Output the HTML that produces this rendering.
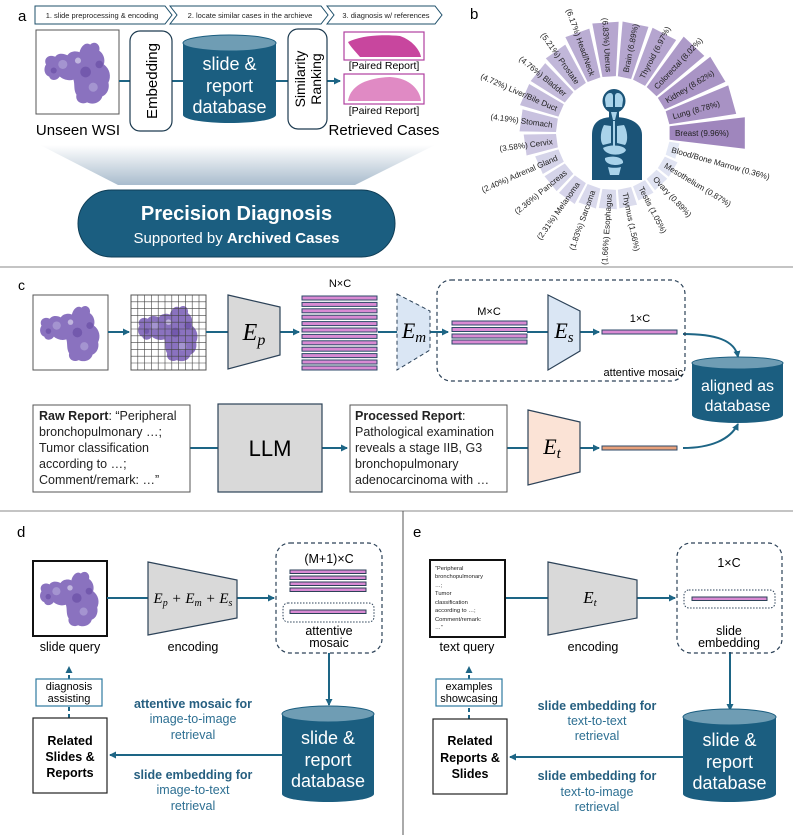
<!DOCTYPE html>
<html><head><meta charset="utf-8">
<style>
html,body{margin:0;padding:0;background:#fff;}
svg{display:block;font-family:"Liberation Sans",sans-serif;}
.m{font-family:"Liberation Serif",serif;font-style:italic;}
</style></head>
<body>
<svg width="793" height="835" viewBox="0 0 793 835" xmlns="http://www.w3.org/2000/svg">
<defs>
<marker id="ar" markerWidth="8" markerHeight="8" refX="6" refY="4" orient="auto" markerUnits="userSpaceOnUse">
<path d="M0,0.5 L7,4 L0,7.5 Z" fill="#1d6585"/></marker>
<symbol id="tis" viewBox="0 0 100 100">
<path d="M8,40 C4,32 12,26 20,30 C24,24 32,26 36,28 C40,22 48,22 52,24 C54,16 60,10 66,14 C72,8 80,14 78,22 C84,26 86,34 84,40 C92,46 94,56 90,64 C92,72 88,80 82,82 C80,90 70,94 62,90 C54,94 46,88 48,80 C44,74 46,66 44,60 C38,62 30,60 26,56 C22,62 14,62 12,56 C6,54 4,46 8,40 Z" fill="#8a72bf"/>
<circle cx="30" cy="40" r="6" fill="#a494d0"/><circle cx="60" cy="50" r="7" fill="#7359ad"/><circle cx="70" cy="70" r="6" fill="#a494d0"/><circle cx="50" cy="35" r="4" fill="#c0b5de"/><circle cx="78" cy="40" r="5" fill="#7359ad"/><circle cx="18" cy="48" r="4" fill="#7359ad"/>
</symbol>
<linearGradient id="trap" x1="0" y1="0" x2="0" y2="1"><stop offset="0" stop-color="#ffffff"/><stop offset="1" stop-color="#a9bccd"/></linearGradient>
<g id="bar"><rect x="0" y="0" width="75" height="4" fill="#d98ad3" stroke="#2c4a68" stroke-width="1"/></g>
<g id="barO"><rect x="0" y="0" width="75" height="4" fill="#e8a07a" stroke="#2c4a68" stroke-width="1"/></g>
</defs>

<!-- ===== Panel a ===== -->
<text x="18" y="21" font-size="15">a</text>
<g fill="#fff" stroke="#1d4f6a" stroke-width="1">
<polygon points="35,6 165,6 172,15 165,24 35,24"/>
<polygon points="170,6 321,6 328,15 321,24 170,24 177,15"/>
<polygon points="327,6 435,6 442,15 435,24 327,24 334,15"/>
</g>
<g font-size="7.5" fill="#222" text-anchor="middle">
<text x="102" y="18">1. slide preprocessing &amp; encoding</text>
<text x="250" y="18">2. locate similar cases in the archieve</text>
<text x="386" y="18">3. diagnosis w/ references</text>
</g>
<rect x="36" y="30" width="83" height="84" fill="#fff" stroke="#555" stroke-width="1"/>
<use href="#tis" x="40" y="34" width="76" height="76"/>
<text x="78" y="135" font-size="15" text-anchor="middle">Unseen WSI</text>
<g stroke="#1d6585" stroke-width="2"><line x1="119" y1="81" x2="130" y2="81"/><line x1="172" y1="81" x2="183" y2="81"/><line x1="276" y1="81" x2="288" y2="81"/><line x1="327" y1="81" x2="340" y2="81" marker-end="url(#ar)"/></g>
<rect x="130" y="31" width="42" height="100" rx="10" fill="#fff" stroke="#1d3b50" stroke-width="1.2"/>
<text transform="translate(157,81) rotate(-90)" font-size="15" text-anchor="middle">Embedding</text>
<path d="M183,43 L183,115 A46.5,8 0 0 0 276,115 L276,43 Z" fill="#1b5e80"/>
<ellipse cx="229.5" cy="43" rx="46.5" ry="8" fill="#6f9db4" stroke="#1b5e80"/>
<g fill="#fff" font-size="18" text-anchor="middle"><text x="229.5" y="70">slide &amp;</text><text x="229.5" y="92">report</text><text x="229.5" y="113">database</text></g>
<rect x="288" y="29" width="39" height="100" rx="10" fill="#fff" stroke="#1d3b50" stroke-width="1.2"/>
<text transform="translate(305,79) rotate(-90)" font-size="14" text-anchor="middle">Similarity</text>
<text transform="translate(321,79) rotate(-90)" font-size="14" text-anchor="middle">Ranking</text>
<rect x="344" y="32" width="80" height="28" fill="#fff" stroke="#b040a0" stroke-width="1.2"/>
<path d="M348,42 C360,36 380,34 400,36 C412,40 420,50 421,57 L360,57 C354,50 350,46 348,42 Z" fill="#c8469e"/>
<text x="384" y="69" font-size="10.5" text-anchor="middle">[Paired Report]</text>
<rect x="344" y="74" width="80" height="30" fill="#fff" stroke="#b040a0" stroke-width="1.2"/>
<path d="M348,101 C350,88 362,78 390,77 C410,78 420,90 421,101 Z" fill="#e08ac4"/>
<text x="384" y="114" font-size="10.5" text-anchor="middle">[Paired Report]</text>
<text x="384" y="135" font-size="15" text-anchor="middle">Retrieved Cases</text>
<polygon points="40,145 435,145 355,185 118,185" fill="url(#trap)"/>
<rect x="78" y="190" width="317" height="67" rx="33.5" fill="#1b5e80" stroke="#0f3e57"/>
<text x="236.5" y="220" font-size="20" font-weight="bold" fill="#fff" text-anchor="middle">Precision Diagnosis</text>
<text x="236.5" y="243" font-size="15" fill="#fff" text-anchor="middle">Supported by <tspan font-weight="bold">Archived Cases</tspan></text>

<!-- ===== Panel b ===== -->
<text x="470" y="19" font-size="15">b</text>
<g transform="translate(613,133)">
<polygon transform="rotate(0)" points="56.6,-6.75 131.8,-15.7 131.8,15.7 56.6,6.75" fill="#9f86bd"/>
<polygon transform="rotate(15.65)" points="56.6,-6.75 66.9,-8 66.9,8 56.6,6.75" fill="#e3e8f5"/>
<polygon transform="rotate(31.3)" points="56.6,-6.75 70.4,-8.4 70.4,8.4 56.6,6.75" fill="#e0e3f2"/>
<polygon transform="rotate(46.96)" points="56.6,-6.75 70.5,-8.4 70.5,8.4 56.6,6.75" fill="#e0e3f2"/>
<polygon transform="rotate(62.6)" points="56.6,-6.75 71.6,-8.5 71.6,8.5 56.6,6.75" fill="#dfe1f1"/>
<polygon transform="rotate(78.3)" points="56.6,-6.75 75.1,-9 75.1,9 56.6,6.75" fill="#dbdced"/>
<polygon transform="rotate(93.9)" points="56.6,-6.75 75.8,-9 75.8,9 56.6,6.75" fill="#dadbed"/>
<polygon transform="rotate(109.6)" points="56.6,-6.75 76.9,-9.2 76.9,9.2 56.6,6.75" fill="#d9d9ec"/>
<polygon transform="rotate(125.2)" points="56.6,-6.75 80.1,-9.6 80.1,9.6 56.6,6.75" fill="#d6d4ea"/>
<polygon transform="rotate(140.9)" points="56.6,-6.75 80.4,-9.6 80.4,9.6 56.6,6.75" fill="#d5d4e9"/>
<polygon transform="rotate(156.5)" points="56.6,-6.75 80.7,-9.6 80.7,9.6 56.6,6.75" fill="#d5d4e9"/>
<polygon transform="rotate(172.2)" points="56.6,-6.75 88.7,-10.6 88.7,10.6 56.6,6.75" fill="#cdc7e2"/>
<polygon transform="rotate(187.8)" points="56.6,-6.75 92.8,-11.1 92.8,11.1 56.6,6.75" fill="#c8c1df"/>
<polygon transform="rotate(203.5)" points="56.6,-6.75 96.4,-11.5 96.4,11.5 56.6,6.75" fill="#c4bcdb"/>
<polygon transform="rotate(219.1)" points="56.6,-6.75 96.7,-11.5 96.7,11.5 56.6,6.75" fill="#c4bbdb"/>
<polygon transform="rotate(234.8)" points="56.6,-6.75 99.7,-11.9 99.7,11.9 56.6,6.75" fill="#c1b7d9"/>
<polygon transform="rotate(250.4)" points="56.6,-6.75 106.3,-12.7 106.3,12.7 56.6,6.75" fill="#baadd3"/>
<polygon transform="rotate(266.1)" points="56.6,-6.75 110.6,-13.2 110.6,13.2 56.6,6.75" fill="#b6a6cf"/>
<polygon transform="rotate(281.7)" points="56.6,-6.75 111.1,-13.2 111.1,13.2 56.6,6.75" fill="#b5a6cf"/>
<polygon transform="rotate(297.4)" points="56.6,-6.75 111.6,-13.3 111.6,13.3 56.6,6.75" fill="#b5a5cf"/>
<polygon transform="rotate(313.04)" points="56.6,-6.75 118.7,-14.1 118.7,14.1 56.6,6.75" fill="#ad9ac8"/>
<polygon transform="rotate(328.7)" points="56.6,-6.75 122.7,-14.6 122.7,14.6 56.6,6.75" fill="#a994c5"/>
<polygon transform="rotate(344.35)" points="56.6,-6.75 123.8,-14.8 123.8,14.8 56.6,6.75" fill="#a892c4"/>
<g font-size="8.1" fill="#222">
<text transform="rotate(0)" x="62" y="3">Breast (9.96%)</text>
<text transform="rotate(15.65)" x="61" y="3">Blood/Bone Marrow (0.36%)</text>
<text transform="rotate(31.3)" x="61" y="3">Mesothelium (0.87%)</text>
<text transform="rotate(46.96)" x="61" y="3">Ovary (0.89%)</text>
<text transform="rotate(62.6)" x="61" y="3">Testis (1.05%)</text>
<text transform="rotate(78.3)" x="61" y="3">Thymus (1.56%)</text>
<text transform="rotate(-15.65)" x="62" y="3">Lung (8.78%)</text>
<text transform="rotate(-31.3)" x="62" y="3">Kidney (8.62%)</text>
<text transform="rotate(-46.96)" x="62" y="3">Colorectal (8.02%)</text>
<text transform="rotate(-62.6)" x="62" y="3">Thyroid (6.97%)</text>
<text transform="rotate(-78.3)" x="62" y="3">Brain (6.89%)</text>
<g text-anchor="end">
<text transform="rotate(-86.1)" x="-61" y="3">(1.66%) Esophagus</text>
<text transform="rotate(-70.4)" x="-61" y="3">(1.83%) Sarcoma</text>
<text transform="rotate(-54.8)" x="-61" y="3">(2.31%) Melanoma</text>
<text transform="rotate(-39.1)" x="-61" y="3">(2.36%) Pancreas</text>
<text transform="rotate(-23.5)" x="-61" y="3">(2.40%) Adrenal Gland</text>
<text transform="rotate(-7.8)" x="-61" y="3">(3.58%) Cervix</text>
<text transform="rotate(7.8)" x="-61" y="3">(4.19%) Stomach</text>
<text transform="rotate(23.5)" x="-61" y="3">(4.72%) Liver/Bile Duct</text>
<text transform="rotate(39.1)" x="-61" y="3">(4.76%) Bladder</text>
<text transform="rotate(54.8)" x="-61" y="3">(5.21%) Prostate</text>
<text transform="rotate(70.4)" x="-61" y="3">(6.17%) Head/Neck</text>
<text transform="rotate(86.1)" x="-61" y="3">(6.83%) Uterus</text>
</g></g>
</g>
<!-- human figure -->
<g>
<ellipse cx="614" cy="101" rx="11.5" ry="12" fill="#1b5478"/>
<rect x="609" y="110" width="10" height="10" fill="#1b5478"/>
<path d="M592,180 L592,135 C592,122 600,117 614,117 C628,117 642,122 642,135 L642,180 Z" fill="#1b5478"/>
<path d="M605,100 C605,92 613,91 613,96 L613,107 L606,107 Z M615,96 C615,91 623,92 623,100 L622,107 L615,107 Z" fill="#a9d3ea"/>
<path d="M611,112 L617,112 L615,120 L613,120 Z" fill="#a9d3ea"/>
<path d="M604,125 C600,132 600,142 603,145 L611,143 L611,126 Z M624,125 C628,132 628,142 625,145 L617,143 L617,126 Z" fill="#a9d3ea"/>
<rect x="613" y="121" width="2" height="25" fill="#a9d3ea"/>
<path d="M603,148 C610,144 624,145 626,150 C624,156 606,157 603,148 Z" fill="#a9d3ea"/>
<path d="M605,158 C612,155 624,157 623,163 C618,167 604,165 605,158 Z" fill="#a9d3ea"/>
<path d="M608,167 C612,168 617,168 621,167 L619,175 L610,175 Z" fill="#a9d3ea"/>
</g>

<!-- separators -->
<line x1="0" y1="267" x2="793" y2="267" stroke="#8a8a8a" stroke-width="1"/>
<line x1="0" y1="511" x2="793" y2="511" stroke="#8a8a8a" stroke-width="1"/>
<line x1="403" y1="511" x2="403" y2="835" stroke="#555" stroke-width="1"/>

<!-- ===== Panel c ===== -->
<text x="18" y="290" font-size="14">c</text>
<rect x="33" y="295" width="75" height="75" fill="#fff" stroke="#555"/>
<use href="#tis" x="36" y="298" width="69" height="69"/>
<rect x="131" y="295" width="75" height="75" fill="#fff" stroke="#555"/>
<use href="#tis" x="134" y="298" width="69" height="69"/>
<g stroke="#444" stroke-width="0.6">
<line x1="137.8" y1="295" x2="137.8" y2="370"/><line x1="144.6" y1="295" x2="144.6" y2="370"/><line x1="151.4" y1="295" x2="151.4" y2="370"/><line x1="158.2" y1="295" x2="158.2" y2="370"/><line x1="165" y1="295" x2="165" y2="370"/><line x1="171.8" y1="295" x2="171.8" y2="370"/><line x1="178.6" y1="295" x2="178.6" y2="370"/><line x1="185.4" y1="295" x2="185.4" y2="370"/><line x1="192.2" y1="295" x2="192.2" y2="370"/><line x1="199" y1="295" x2="199" y2="370"/>
<line x1="131" y1="301.8" x2="206" y2="301.8"/><line x1="131" y1="308.6" x2="206" y2="308.6"/><line x1="131" y1="315.4" x2="206" y2="315.4"/><line x1="131" y1="322.2" x2="206" y2="322.2"/><line x1="131" y1="329" x2="206" y2="329"/><line x1="131" y1="335.8" x2="206" y2="335.8"/><line x1="131" y1="342.6" x2="206" y2="342.6"/><line x1="131" y1="349.4" x2="206" y2="349.4"/><line x1="131" y1="356.2" x2="206" y2="356.2"/><line x1="131" y1="363" x2="206" y2="363"/>
</g>
<g stroke="#1d6585" stroke-width="2" fill="none">
<line x1="108" y1="332" x2="129" y2="332" marker-end="url(#ar)"/>
<line x1="206" y1="332" x2="228" y2="332"/>
<line x1="280" y1="332" x2="299" y2="332" marker-end="url(#ar)"/>
<line x1="378" y1="332" x2="397" y2="332"/>
<line x1="430" y1="332" x2="448" y2="332" marker-end="url(#ar)"/>
<line x1="527" y1="332" x2="548" y2="332"/>
<line x1="580" y1="332" x2="599" y2="332" marker-end="url(#ar)"/>
<path d="M683,334 C715,334 735,340 738,357" marker-end="url(#ar)"/>
<line x1="190" y1="448" x2="218" y2="448"/>
<line x1="322" y1="448" x2="347" y2="448" marker-end="url(#ar)"/>
<line x1="507" y1="448" x2="528" y2="448"/>
<line x1="580" y1="448" x2="599" y2="448" marker-end="url(#ar)"/>
<path d="M683,448 C710,448 730,440 738,424" marker-end="url(#ar)"/>
</g>
<polygon points="228,295 280,307 280,355 228,369" fill="#d9d9d9" stroke="#2c4258" stroke-width="1.2"/>
<text x="254" y="340" class="m" font-size="24" text-anchor="middle">E<tspan font-size="16" dy="5">p</tspan></text>
<text x="340" y="287" font-size="11" text-anchor="middle">N×C</text>
<use href="#bar" x="302" y="296"/><use href="#bar" x="302" y="302.4"/><use href="#bar" x="302" y="308.8"/><use href="#bar" x="302" y="315.2"/><use href="#bar" x="302" y="321.6"/><use href="#bar" x="302" y="328"/><use href="#bar" x="302" y="334.4"/><use href="#bar" x="302" y="340.8"/><use href="#bar" x="302" y="347.2"/><use href="#bar" x="302" y="353.6"/><use href="#bar" x="302" y="360"/><use href="#bar" x="302" y="366"/>
<polygon points="397,294 430,311 430,350 397,370" fill="#dae6f4" stroke="#2c4258" stroke-width="1" stroke-dasharray="4,3"/>
<text x="414" y="338" class="m" font-size="22" text-anchor="middle">E<tspan font-size="15" dy="4">m</tspan></text>
<rect x="437" y="280" width="248" height="101" rx="14" fill="none" stroke="#2c4258" stroke-width="1.2" stroke-dasharray="4,3"/>
<text x="489" y="315" font-size="11" text-anchor="middle">M×C</text>
<use href="#bar" x="452" y="321"/><use href="#bar" x="452" y="327.5"/><use href="#bar" x="452" y="334"/><use href="#bar" x="452" y="340"/>
<polygon points="548,295 580,311 580,351 548,370" fill="#dae6f4" stroke="#2c4258" stroke-width="1.2"/>
<text x="564" y="338" class="m" font-size="22" text-anchor="middle">E<tspan font-size="15" dy="4">s</tspan></text>
<text x="640" y="322" font-size="11" text-anchor="middle">1×C</text>
<use href="#bar" x="602" y="330"/>
<text x="683" y="376" font-size="11" text-anchor="end">attentive mosaic</text>
<path d="M692,363 L692,415 A45.5,8 0 0 0 783,415 L783,363 Z" fill="#1b5e80"/>
<ellipse cx="737.5" cy="363" rx="45.5" ry="6" fill="#6f9db4" stroke="#1b5e80"/>
<g fill="#fff" font-size="16" text-anchor="middle"><text x="737.5" y="391">aligned as</text><text x="737.5" y="411">database</text></g>
<rect x="33" y="405" width="157" height="87" fill="#fff" stroke="#555"/>
<g font-size="12.5" fill="#222">
<text x="39" y="420"><tspan font-weight="bold">Raw Report</tspan>: “Peripheral</text>
<text x="39" y="436">bronchopulmonary …;</text>
<text x="39" y="452">Tumor classification</text>
<text x="39" y="468">according to …;</text>
<text x="39" y="484">Comment/remark: …”</text>
</g>
<rect x="218" y="404" width="104" height="88" fill="#d9d9d9" stroke="#2c4258" stroke-width="1.2"/>
<text x="270" y="456" font-size="22" text-anchor="middle">LLM</text>
<rect x="350" y="405" width="157" height="87" fill="#fff" stroke="#555"/>
<g font-size="12.5" fill="#222">
<text x="355" y="420"><tspan font-weight="bold">Processed Report</tspan>:</text>
<text x="355" y="436">Pathological examination</text>
<text x="355" y="452">reveals a stage IIB, G3</text>
<text x="355" y="468">bronchopulmonary</text>
<text x="355" y="484">adenocarcinoma with …</text>
</g>
<polygon points="528,410 580,422 580,472 528,485" fill="#fbe3d6" stroke="#2c4258" stroke-width="1.2"/>
<text x="552" y="454" class="m" font-size="22" text-anchor="middle">E<tspan font-size="15" dy="4">t</tspan></text>
<use href="#barO" x="602" y="446"/>

<!-- ===== Panel d ===== -->
<text x="17" y="537" font-size="15">d</text>
<rect x="33" y="561" width="74" height="75" fill="#fff" stroke="#111" stroke-width="2"/>
<use href="#tis" x="36" y="564" width="68" height="68"/>
<text x="70" y="651" font-size="12.5" text-anchor="middle">slide query</text>
<g stroke="#1d6585" stroke-width="2" fill="none">
<line x1="107" y1="598" x2="148" y2="598"/>
<line x1="237" y1="598" x2="274" y2="598" marker-end="url(#ar)"/>
<line x1="329" y1="653" x2="329" y2="705" marker-end="url(#ar)"/>
<line x1="282" y1="755" x2="110" y2="755" marker-end="url(#ar)"/>
<line x1="69" y1="718" x2="69" y2="707" stroke-dasharray="4,3"/>
<line x1="69" y1="679" x2="69" y2="667" stroke-dasharray="4,3" marker-end="url(#ar)"/>
<line x1="505" y1="598" x2="548" y2="598"/>
<line x1="637" y1="598" x2="675" y2="598" marker-end="url(#ar)"/>
<line x1="730" y1="652" x2="730" y2="710" marker-end="url(#ar)"/>
<line x1="683" y1="757" x2="510" y2="757" marker-end="url(#ar)"/>
<line x1="469" y1="719" x2="469" y2="707" stroke-dasharray="4,3"/>
<line x1="469" y1="679" x2="469" y2="667" stroke-dasharray="4,3" marker-end="url(#ar)"/>
</g>
<polygon points="148,562 237,580 237,618 148,635" fill="#d9d9d9" stroke="#2c4258" stroke-width="1.2"/>
<text x="193" y="603" class="m" font-size="15" text-anchor="middle">E<tspan font-size="10" dy="3">p</tspan><tspan dy="-3"> + E</tspan><tspan font-size="10" dy="3">m</tspan><tspan dy="-3"> + E</tspan><tspan font-size="10" dy="3">s</tspan></text>
<text x="193" y="651" font-size="12.5" text-anchor="middle">encoding</text>
<rect x="276" y="543" width="106" height="110" rx="14" fill="none" stroke="#2c4258" stroke-width="1.2" stroke-dasharray="4,3"/>
<text x="329" y="563" font-size="12.5" text-anchor="middle">(M+1)×C</text>
<rect x="290" y="570" width="76" height="3.5" fill="#d98ad3" stroke="#2c4258"/>
<rect x="290" y="576" width="76" height="3.5" fill="#d98ad3" stroke="#2c4258"/>
<rect x="290" y="582" width="76" height="3.5" fill="#d98ad3" stroke="#2c4258"/>
<rect x="290" y="588" width="76" height="3.5" fill="#d98ad3" stroke="#2c4258"/>
<rect x="283" y="603" width="91" height="19" rx="5" fill="none" stroke="#2c4258" stroke-dasharray="1.5,1.5"/>
<rect x="290" y="610" width="76" height="3.5" fill="#d98ad3" stroke="#2c4258"/>
<text x="329" y="635" font-size="12.5" text-anchor="middle">attentive</text>
<text x="329" y="647" font-size="12.5" text-anchor="middle">mosaic</text>
<path d="M282,714 L282,794 A46,8 0 0 0 374,794 L374,714 Z" fill="#1b5e80"/>
<ellipse cx="328" cy="714" rx="46" ry="8" fill="#6f9db4" stroke="#1b5e80"/>
<g fill="#fff" font-size="18" text-anchor="middle"><text x="328" y="744">slide &amp;</text><text x="328" y="766">report</text><text x="328" y="787">database</text></g>
<rect x="33" y="718" width="74" height="75" fill="#fff" stroke="#222" stroke-width="1.2"/>
<g font-size="12.5" font-weight="bold" text-anchor="middle"><text x="70" y="745">Related</text><text x="70" y="761">Slides &amp;</text><text x="70" y="777">Reports</text></g>
<rect x="36" y="679" width="66" height="27" fill="#fff" stroke="#2e7aa0" stroke-width="1.2"/>
<g font-size="11" text-anchor="middle"><text x="69" y="690">diagnosis</text><text x="69" y="702">assisting</text></g>
<g font-size="12.5" text-anchor="middle" fill="#2d6f92">
<text x="193" y="708" font-weight="bold" fill="#265f80">attentive mosaic for</text>
<text x="193" y="723">image-to-image</text>
<text x="193" y="739">retrieval</text>
<text x="193" y="779" font-weight="bold" fill="#265f80">slide embedding for</text>
<text x="193" y="794">image-to-text</text>
<text x="193" y="810">retrieval</text>
</g>

<!-- ===== Panel e ===== -->
<text x="413" y="537" font-size="15">e</text>
<rect x="430" y="560" width="75" height="77" fill="#fff" stroke="#111" stroke-width="2"/>
<g font-size="5.8" fill="#222">
<text x="435" y="570">“Peripheral</text><text x="435" y="578">bronchopulmonary</text><text x="435" y="587">…;</text><text x="435" y="595">Tumor</text><text x="435" y="604">classification</text><text x="435" y="612">according to …;</text><text x="435" y="621">Comment/remark:</text><text x="435" y="629">…”</text>
</g>
<text x="467" y="651" font-size="12.5" text-anchor="middle">text query</text>
<polygon points="548,562 637,580 637,618 548,635" fill="#d9d9d9" stroke="#2c4258" stroke-width="1.2"/>
<text x="590" y="603" class="m" font-size="17" text-anchor="middle">E<tspan font-size="11" dy="3">t</tspan></text>
<text x="593" y="651" font-size="12.5" text-anchor="middle">encoding</text>
<rect x="677" y="543" width="105" height="110" rx="14" fill="none" stroke="#2c4258" stroke-width="1.2" stroke-dasharray="4,3"/>
<text x="729" y="567" font-size="12.5" text-anchor="middle">1×C</text>
<rect x="684" y="590" width="91" height="18" rx="5" fill="none" stroke="#2c4258" stroke-dasharray="1.5,1.5"/>
<rect x="692" y="597" width="75" height="3.5" fill="#d98ad3" stroke="#2c4258"/>
<text x="729" y="635" font-size="12.5" text-anchor="middle">slide</text>
<text x="729" y="647" font-size="12.5" text-anchor="middle">embedding</text>
<path d="M683,717 L683,794 A46.5,8 0 0 0 776,794 L776,717 Z" fill="#1b5e80"/>
<ellipse cx="729.5" cy="717" rx="46.5" ry="8" fill="#6f9db4" stroke="#1b5e80"/>
<g fill="#fff" font-size="18" text-anchor="middle"><text x="729.5" y="746">slide &amp;</text><text x="729.5" y="768">report</text><text x="729.5" y="789">database</text></g>
<rect x="433" y="719" width="74" height="75" fill="#fff" stroke="#222" stroke-width="1.2"/>
<g font-size="12.5" font-weight="bold" text-anchor="middle"><text x="470" y="745">Related</text><text x="470" y="762">Reports &amp;</text><text x="470" y="778">Slides</text></g>
<rect x="436" y="679" width="66" height="27" fill="#fff" stroke="#2e7aa0" stroke-width="1.2"/>
<g font-size="11" text-anchor="middle"><text x="469" y="690">examples</text><text x="469" y="702">showcasing</text></g>
<g font-size="12.5" text-anchor="middle" fill="#2d6f92">
<text x="597" y="710" font-weight="bold" fill="#265f80">slide embedding for</text>
<text x="597" y="725">text-to-text</text>
<text x="597" y="740">retrieval</text>
<text x="597" y="780" font-weight="bold" fill="#265f80">slide embedding for</text>
<text x="597" y="796">text-to-image</text>
<text x="597" y="811">retrieval</text>
</g>
</svg>
</body></html>
